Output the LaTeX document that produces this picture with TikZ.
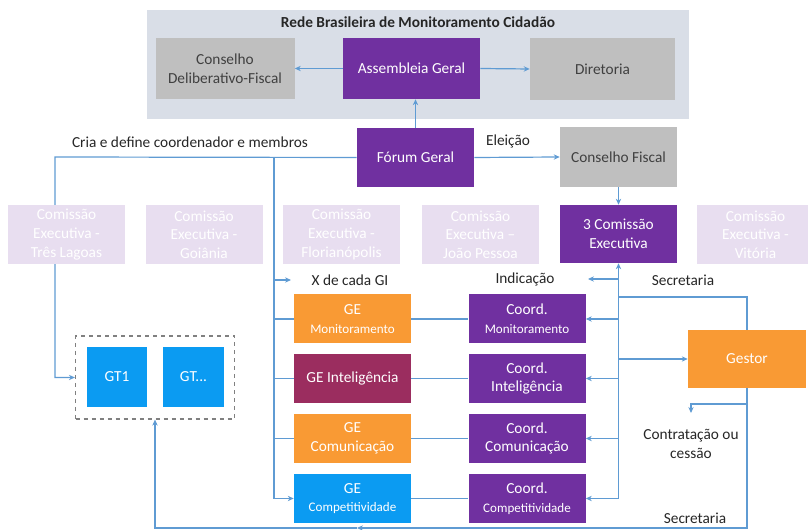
\documentclass[tikz,border=0pt]{standalone}
\usepackage{fontspec}
\setmainfont{Carlito}
\usetikzlibrary{arrows.meta,positioning}
\definecolor{redepurple}{HTML}{7030A0}
\definecolor{redegray}{HTML}{BFBFBF}
\definecolor{redebg}{HTML}{D9DEE7}
\definecolor{redeghost}{HTML}{E8DEF0}
\definecolor{redeorange}{HTML}{F99A34}
\definecolor{redewine}{HTML}{9B2D5F}
\definecolor{redeblue}{HTML}{0B9BF2}
\definecolor{redeline}{HTML}{5F9BD3}
\definecolor{redetext}{HTML}{404040}
\newcommand{\redesmall}{\fontsize{9.8}{12}\selectfont}

\begin{document}
\begin{tikzpicture}[x=0.75pt,y=-0.75pt,font=\fontsize{11.5}{14}\selectfont,text=black!85,
  box/.style={minimum width=87.75pt,minimum height=44pt,inner sep=1pt,align=center},
  purplebox/.style={box,fill=redepurple,text=white},
  graybox/.style={box,fill=redegray,text=redetext},
  ghostbox/.style={box,fill=redeghost,text=white},
  link/.style={draw=redeline,line width=0.9pt},
  arr/.style={link,-{Stealth[length=4.5pt,width=4pt]}}]
  \useasboundingbox (0,0) rectangle (808,530);

  \node[fill=redebg,minimum width=406.5pt,minimum height=81.75pt] (rede) at (418,64.5) {};
  \node[font=\fontsize{11.5}{14}\selectfont\bfseries] (titulo) at (418,22) {Rede Brasileira de Monitoramento Cidadão};
  \node[graybox,minimum width=104.25pt,minimum height=45.75pt] (cdf) at (225,68.5) {Conselho\\Deliberativo-Fiscal};
  \node[purplebox,minimum width=102.75pt,minimum height=45.75pt] (ag) at (411.5,68.5) {Assembleia Geral};
  \node[graybox,minimum width=108.75pt,minimum height=46.5pt] (dir) at (602.5,69) {Diretoria};
  \node[purplebox,minimum height=44.25pt] (forum) at (415.5,157.5) {Fórum Geral};
  \node[graybox,minimum height=45pt] (cf) at (618.5,157) {Conselho Fiscal};
  \node[purplebox,minimum height=43.5pt] (ce3) at (618.5,234) {3 Comissão\\Executiva};

  \node[draw=gray,dashed,line width=0.9pt,minimum width=119.25pt,minimum height=62.25pt] (gtbox) at (155,377.5) {};
  \node[box,fill=redeblue,text=white,minimum width=45pt,minimum height=45pt] (gt1) at (117,377) {GT1};
  \node[box,fill=redeblue,text=white,minimum width=45.75pt,minimum height=45pt] (gt2) at (193.5,377) {GT...};

  \foreach \i/\y/\c/\g/\k in {
    1/319/redeorange/{GE\\{\redesmall Monitoramento}}/{Coord.\\{\redesmall Monitoramento}},
    2/378.5/redewine/{GE Inteligência}/{Coord.\\Inteligência},
    3/438.5/redeorange/{GE\\Comunicação}/{Coord.\\Comunicação},
    4/498.5/redeblue/{GE\\{\redesmall Competitividade}}/{Coord.\\{\redesmall Competitividade}}}
  {
    \node[box,fill=\c,text=white,minimum height=36.75pt] (ge\i) at (352.5,\y) {\g};
    \node[purplebox,minimum height=36.75pt] (co\i) at (527,\y) {\k};
    \draw[link] (ge\i) -- (co\i);
    \draw[arr] (ce3.south |- co\i.east) -- (co\i.east);
  }

  \node[graybox,fill=redeorange,text=white,minimum width=88.5pt,minimum height=43.5pt] (gestor) at (747,359) {Gestor};

  \node (cria) at (190,142) {Cria e define coordenador e membros};
  \node (eleicao) at (508,141) {Eleição};
  \node (xgitxt) at (350,280) {X de cada GI};
  \node (indic) at (525,279) {Indicação};
  \node (secr1) at (683,280) {Secretaria};
  \node[align=center] (contr) at (691,444) {Contratação ou\\cessão};
  \node (secr2) at (695,518) {Secretaria};

  \coordinate (leftcorner) at (55,157);
  \coordinate (gespine) at (274,157);
  \coordinate (xgi) at (291,280);
  \coordinate (indicend) at (588,279);
  \coordinate (secr) at (619,297);
  \coordinate (gbranch) at (748,404);
  \coordinate (contrtop) at (691,413);
  \coordinate (botmid) at (357,528);

  \draw[arr] (ag.west) -- (cdf.east);
  \draw[arr] (ag.east) -- (dir.west);
  \draw[arr] (forum.north) -- (forum.north |- ag.south);
  \draw[arr] (forum.east) -- (cf.west);
  \draw[arr] (cf.south) -- (ce3.north);

  \draw[arr] (forum.west) -- (leftcorner) |- (gtbox.west);
  \draw[arr] (gespine) |- (ge4.west);
  \draw[arr] (gespine |- xgi) -- (xgi);
  \foreach \i in {1,2,3}
    \draw[link] (gespine |- ge\i.west) -- (ge\i.west);

  \draw[arr] (ce3.south |- co4.east) -- (ce3.south);
  \draw[arr] (ce3.south |- indicend) -- (indicend);
  \draw[arr] (ce3.south |- gestor.west) -- (gestor.west);
  \draw[link] (secr) -| (gestor.north);
  \draw[arr] (gbranch) -| (contrtop);
  \draw[arr] (gestor.south) |- (botmid);
  \draw[arr] (botmid) -| (gtbox.south);

  \foreach \x/\n/\d/\t in {66.5/tl/-/{Três Lagoas}, 204/go/-/Goiânia, 341.5/fl/-/Florianópolis, 480.5/jp/--/{João Pessoa}, 755.5/vi/-/Vitória}
    \node[ghostbox,minimum height=44.25pt] (ce\n) at (\x,234.5) {Comissão\\Executiva \d\\\t};
\end{tikzpicture}
\end{document}
